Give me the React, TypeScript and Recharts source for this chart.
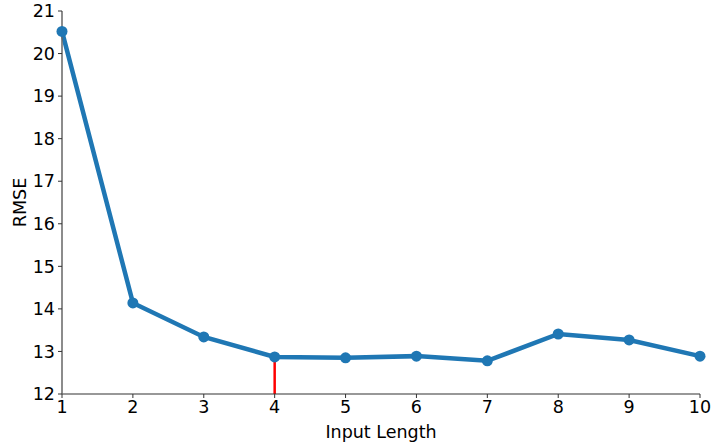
import { LineChart, Line, XAxis, YAxis, ReferenceLine } from 'recharts';

const inputLengths = [1, 2, 3, 4, 5, 6, 7, 8, 9, 10];
const rmseValues = [20.52, 14.14, 13.34, 12.87, 12.85, 12.89, 12.78, 13.41, 13.27, 12.89];
const xTicks = [1, 2, 3, 4, 5, 6, 7, 8, 9, 10];
const yTicks = [12, 13, 14, 15, 16, 17, 18, 19, 20, 21];
const bestLength = 4;
const bestRmse = 12.87;

const data = inputLengths.map((len, i) => ({ len, rmse: rmseValues[i] }));

const FONT = '"DejaVu Sans", sans-serif';
const tickStyle = { fill: '#000', fontSize: 17.5, fontFamily: FONT };

export default function App() {
  return (
    <div style={{ position: 'absolute', left: 0, top: 0, background: '#fff' }}>
      <LineChart width={712} height={442} data={data} margin={{ top: 11, right: 12, bottom: 0, left: 0 }}>
        <XAxis
          dataKey="len"
          type="number"
          domain={[1, 10]}
          ticks={xTicks}
          tick={tickStyle}
          tickSize={4}
          tickMargin={3}
          height={48}
          stroke="#333"
          axisLine={{ stroke: '#333', strokeWidth: 1.2 }}
          label={{ value: 'Input Length', position: 'insideBottom', offset: 4, fill: '#000', fontSize: 17.5, fontFamily: FONT }}
        />
        <XAxis xAxisId="top" orientation="top" dataKey="len" type="number" domain={[1, 10]} tick={false} tickLine={false} height={0} stroke="#000" />
        <YAxis
          type="number"
          domain={[12, 21]}
          ticks={yTicks}
          tick={tickStyle}
          tickSize={4}
          tickMargin={3}
          width={62}
          stroke="#333"
          axisLine={{ stroke: '#666', strokeWidth: 1.5 }}
          allowDataOverflow
          label={{ value: 'RMSE', angle: -90, position: 'insideLeft', offset: 20, fill: '#000', fontSize: 17.5, fontFamily: FONT, style: { textAnchor: 'middle' } }}
        />
        <YAxis yAxisId="right" orientation="right" domain={[12, 21]} tick={false} tickLine={false} width={0} stroke="#000" />
        <ReferenceLine
          segment={[{ x: bestLength, y: 12 }, { x: bestLength, y: bestRmse }]}
          stroke="#ff0000"
          strokeWidth={2.5}
        />
        <Line
          type="linear"
          dataKey="rmse"
          stroke="#1f77b4"
          strokeWidth={4.5}
          dot={{ r: 5.5, fill: '#1f77b4', stroke: '#1f77b4', strokeWidth: 0 }}
          isAnimationActive={false}
        />
      </LineChart>
    </div>
  );
}
